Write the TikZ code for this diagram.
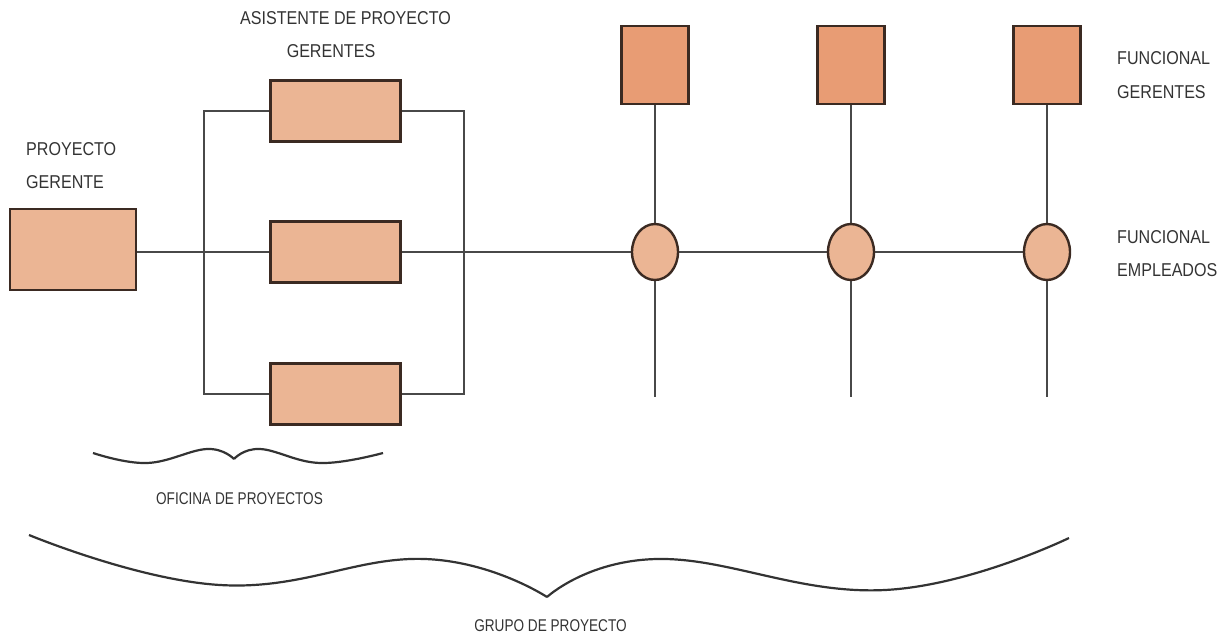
\documentclass[tikz,border=0pt]{standalone}
\usepackage{fontspec}
\usetikzlibrary{shapes.geometric}
\setmainfont{Liberation Sans}
\newfontfamily\lblfont{Liberation Sans}[FakeStretch=0.865]
\newfontfamily\bracefont{Liberation Sans}[FakeStretch=0.80]
\definecolor{boxfill}{HTML}{EBB594}
\definecolor{fmfill}{HTML}{E89C74}
\definecolor{edge}{HTML}{3B2A22}
\definecolor{wire}{HTML}{484848}
\definecolor{ink}{HTML}{333333}
\pgfdeclarelayer{wires}
\pgfsetlayers{wires,main}
\begin{document}
\begin{tikzpicture}[x=1pt,y=-1pt,
  pbox/.style={draw=edge,line width=2.6pt,fill=boxfill,minimum width=130pt,minimum height=61pt,inner sep=0pt},
  fmbox/.style={draw=edge,line width=2.6pt,fill=fmfill,minimum width=67pt,minimum height=78pt,inner sep=0pt},
  emp/.style={draw=edge,line width=2.4pt,fill=boxfill,ellipse,minimum width=46pt,minimum height=56pt,inner sep=0pt},
  wireline/.style={draw=wire,line width=2.2pt},
  bracel/.style={draw=ink,line width=2.2pt},
  lbl/.style={text=ink,inner sep=0pt,font=\lblfont\fontsize{18.6}{22}\selectfont},
  blbl/.style={text=ink,inner sep=0pt,font=\bracefont\fontsize{17}{20}\selectfont}]
\useasboundingbox (0,0) rectangle (1229,634);

% project manager and assistant project managers
\node[pbox,minimum width=126pt,minimum height=81pt] (pm) at (73,249.5) {};
\node[pbox] (a1) at (335.5,111) {};
\node[pbox] (a2) at (335.5,252) {};
\node[pbox] (a3) at (335.5,394) {};

% functional managers
\node[fmbox] (f1) at (655,65) {};
\node[fmbox] (f2) at (851,65) {};
\node[fmbox] (f3) at (1047,65) {};

% functional employees
\node[emp] (e1) at (655,252) {};
\node[emp] (e2) at (851,252) {};
\node[emp] (e3) at (1047,252) {};

% frame of the project office
\coordinate (bl) at (204,0);
\coordinate (br) at (464,0);
% free ends of the employee lines
\coordinate (d1) at (655,397);
\coordinate (d2) at (851,397);
\coordinate (d3) at (1047,397);

% connectors, kept under the boxes
\begin{pgfonlayer}{wires}
\path[wireline] (pm.east |- e1) -- (a2.west);
\path[wireline] (a2.east) -- (e1.west);
\path[wireline] (e1.east) -- (e2.west);
\path[wireline] (e2.east) -- (e3.west);
\path[wireline] (a1.west) -- (a1.west -| bl) -- (a3.west -| bl) -- (a3.west);
\path[wireline] (a1.east) -- (a1.east -| br) -- (a3.east -| br) -- (a3.east);
\path[wireline] (f1.south) -- (e1.north);
\path[wireline] (f2.south) -- (e2.north);
\path[wireline] (f3.south) -- (e3.north);
\path[wireline] (e1.south) -- (d1);
\path[wireline] (e2.south) -- (d2);
\path[wireline] (e3.south) -- (d3);
\end{pgfonlayer}

% labels
\node[lbl,anchor=base] (t1) at (345.5,25) {ASISTENTE DE PROYECTO};
\node[lbl,anchor=base] (t2) at (331,58) {GERENTES};
\node[lbl,anchor=base west] (t3) at (26,155.5) {PROYECTO};
\node[lbl,anchor=base west] (t4) at (26,188) {GERENTE};
\node[lbl,anchor=base west] (t5) at (1117,65) {FUNCIONAL};
\node[lbl,anchor=base west] (t6) at (1117,98) {GERENTES};
\node[lbl,anchor=base west] (t7) at (1117,243) {FUNCIONAL};
\node[lbl,anchor=base west] (t8) at (1117,276) {EMPLEADOS};

% braces
\draw[bracel] plot[smooth,tension=0.7] coordinates {(93,453) (147,463) (207,449) (234,459)};
\draw[bracel] plot[smooth,tension=0.7] coordinates {(234,459) (260,449) (320,463) (383,453)};
\node[blbl,anchor=base] (t9) at (239.5,504) {OFICINA DE PROYECTOS};

\draw[bracel] plot[smooth,tension=0.75] coordinates {(29,535) (220,585) (425,559) (547,597)};
\draw[bracel] plot[smooth,tension=0.75] coordinates {(547,597) (657,559) (885,590) (1069,538)};
\node[blbl,anchor=base] (t10) at (550.5,631) {GRUPO DE PROYECTO};
\end{tikzpicture}
\end{document}
